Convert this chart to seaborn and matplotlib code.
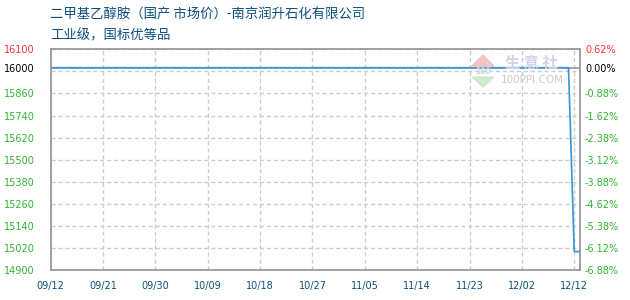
import numpy as np
import pandas as pd
import matplotlib
matplotlib.use("Agg")
import matplotlib.pyplot as plt
from matplotlib.patches import Polygon
import seaborn as sns

# Price series (yuan/ton): flat until 12/11, then a drop
dates = ["2024-09-12", "2024-12-11", "2024-12-12", "2024-12-13"]
prices = [16000, 16000, 15000, 15000]
base_price = 16000

# Axis settings
y_min, y_max = 14900, 16100
grid_step = 120
x_labels = ["09/12", "09/21", "09/30", "10/09", "10/18", "10/27",
            "11/05", "11/14", "11/23", "12/02", "12/12"]
left_tick_values = [16100, 16000, 15860, 15740, 15620, 15500,
                    15380, 15260, 15140, 15020, 14900]

title_line1 = "二甲基乙醇胺（国产 市场价）-南京润升石化有限公司"
title_line2 = "工业级，国标优等品"

sns.set_theme(style="white")
plt.rcParams["font.family"] = ["DejaVu Sans"]

df = pd.DataFrame({"date": pd.to_datetime(dates), "price": prices})
start = df["date"].iloc[0]
df["day"] = (df["date"] - start).dt.days
last_tick_day = (pd.Timestamp("2024-12-12") - start).days

fig = plt.figure(figsize=(6.3, 3.0), dpi=100)
ax = fig.add_axes([50.7 / 630, 0.1, (580 - 50.7) / 630, (270 - 49.3) / 300])

GREEN = "#2fb52f"
RED = "#ff3333"
BLUE_TXT = "#0b4f7f"
GRID = "#cccccc"

# grid: dashed light gray
grid_vals = list(range(y_min, y_max, grid_step)) + [y_max]
for gv in grid_vals:
    ax.axhline(gv, color=GRID, lw=1, ls=(0, (3, 2)), zorder=0)
x_ticks = np.linspace(0, last_tick_day, len(x_labels))
for xv in x_ticks[1:]:
    ax.axvline(xv, color=GRID, lw=1, ls=(0, (3, 2)), zorder=0)

# base price reference line
ax.axhline(base_price, color="#999999", lw=1.2, zorder=1)

sns.lineplot(data=df, x="day", y="price", ax=ax, color="#3a9ad9",
             linewidth=1.25, zorder=3)

ax.set_xlim(0, df["day"].iloc[-1])
ax.set_ylim(y_min, y_max)
ax.set_xlabel("")
ax.set_ylabel("")

ax.set_xticks(x_ticks)
ax.set_xticklabels(x_labels, color=BLUE_TXT, fontsize=7)
ax.set_yticks(left_tick_values)
ax.set_yticklabels([str(v) for v in left_tick_values], fontsize=7)
for lbl, v in zip(ax.get_yticklabels(), left_tick_values):
    lbl.set_color(RED if v > base_price else ("black" if v == base_price else GREEN))
ax.tick_params(axis="y", length=0, pad=11.5)
ax.tick_params(axis="x", length=0, pad=8)

for s in ax.spines.values():
    s.set_color("#999999")
    s.set_linewidth(1.3)

# right axis: percent change vs base price
ax2 = ax.twinx()
ax2.set_ylim(y_min, y_max)
ax2.set_yticks(left_tick_values)
pct_labels = [f"{(v - base_price) / base_price * 100:.2f}%" for v in left_tick_values]
ax2.set_yticklabels(pct_labels, fontsize=7)
for lbl, v in zip(ax2.get_yticklabels(), left_tick_values):
    lbl.set_color(RED if v > base_price else ("black" if v == base_price else GREEN))
ax2.tick_params(axis="y", length=0, pad=3.6)
for s in ax2.spines.values():
    s.set_visible(False)
ax2.grid(False)

# titles
cjk = ["Noto Sans CJK SC", "DejaVu Sans"]
fig.text(50 / 630, 1 - 15 / 300, title_line1, family=cjk, fontsize=9.6,
         color=BLUE_TXT, va="center", ha="left")
fig.text(50 / 630, 1 - 35 / 300, title_line2, family=cjk, fontsize=9.6,
         color=BLUE_TXT, va="center", ha="left")

# faint site watermark
fig.patches.append(Polygon([[472 / 630, 1 - 66 / 300], [494 / 630, 1 - 66 / 300],
                            [483 / 630, 1 - 55 / 300]], closed=True,
                           transform=fig.transFigure, color="#f3b8b8", alpha=0.8))
fig.patches.append(Polygon([[472 / 630, 1 - 77 / 300], [494 / 630, 1 - 77 / 300],
                            [483 / 630, 1 - 87 / 300]], closed=True,
                           transform=fig.transFigure, color="#c4e8c4", alpha=0.8))
fig.text(483 / 630, 1 - 71.5 / 300, "100", fontsize=5.5, color="#c9d3e6",
         va="center", ha="center", fontweight="bold")
fig.text(531 / 630, 1 - 63 / 300, "生 意 社", family=cjk, fontsize=11,
         color="#ccd5e8", va="center", ha="center", fontweight="bold")
fig.text(532 / 630, 1 - 80 / 300, "100PPI.COM", fontsize=7.5,
         color="#cccccc", va="center", ha="center")

fig.savefig("out.png", dpi=100)
